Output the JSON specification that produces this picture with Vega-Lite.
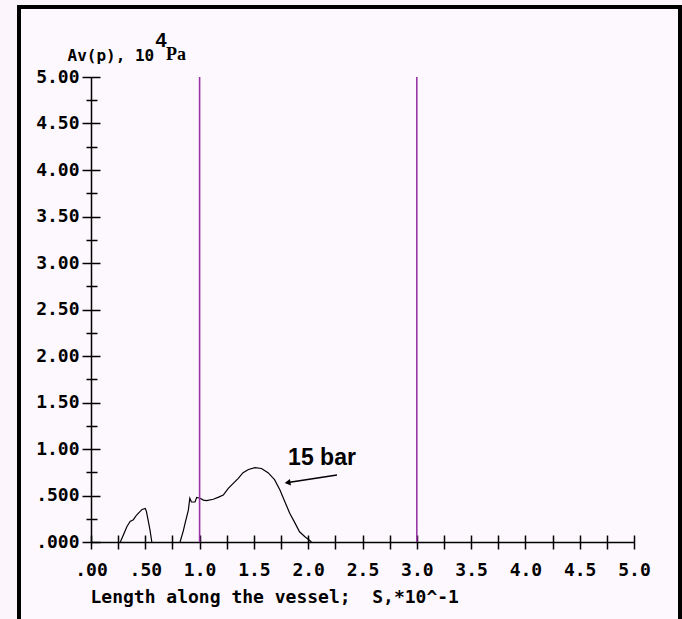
{
  "$schema": "https://vega.github.io/schema/vega-lite/v6.json",
  "width": 661,
  "height": 612,
  "autosize": {"type": "none"},
  "padding": {"left": 19, "top": 7, "right": 2, "bottom": 0},
  "background": "#fcf6fc",
  "config": {
    "view": {"fill": "#fdf8fd", "stroke": "#000000", "strokeWidth": 4, "strokeDash": [1273, 661, 700]},
    "axis": {"grid": false, "domainColor": "#000000", "tickColor": "#000000", "labelColor": "#000000", "titleColor": "#000000"}
  },
  "datasets": {
    "curve": [
      {"s": 0.27, "av": 0.0, "seg": "a"},
      {"s": 0.30, "av": 0.08, "seg": "a"},
      {"s": 0.33, "av": 0.165, "seg": "a"},
      {"s": 0.36, "av": 0.22, "seg": "a"},
      {"s": 0.39, "av": 0.24, "seg": "a"},
      {"s": 0.42, "av": 0.29, "seg": "a"},
      {"s": 0.47, "av": 0.35, "seg": "a"},
      {"s": 0.50, "av": 0.36, "seg": "a"},
      {"s": 0.51, "av": 0.33, "seg": "a"},
      {"s": 0.525, "av": 0.24, "seg": "a"},
      {"s": 0.543, "av": 0.13, "seg": "a"},
      {"s": 0.56, "av": 0.0, "seg": "a"},
      {"s": 0.82, "av": 0.0, "seg": "b"},
      {"s": 0.85, "av": 0.12, "seg": "b"},
      {"s": 0.866, "av": 0.2, "seg": "b"},
      {"s": 0.896, "av": 0.34, "seg": "b"},
      {"s": 0.91, "av": 0.47, "seg": "b"},
      {"s": 0.925, "av": 0.43, "seg": "b"},
      {"s": 0.958, "av": 0.43, "seg": "b"},
      {"s": 0.973, "av": 0.48, "seg": "b"},
      {"s": 1.004, "av": 0.47, "seg": "b"},
      {"s": 1.035, "av": 0.45, "seg": "b"},
      {"s": 1.065, "av": 0.444, "seg": "b"},
      {"s": 1.126, "av": 0.46, "seg": "b"},
      {"s": 1.17, "av": 0.48, "seg": "b"},
      {"s": 1.218, "av": 0.505, "seg": "b"},
      {"s": 1.264, "av": 0.577, "seg": "b"},
      {"s": 1.31, "av": 0.63, "seg": "b"},
      {"s": 1.356, "av": 0.685, "seg": "b"},
      {"s": 1.40, "av": 0.745, "seg": "b"},
      {"s": 1.45, "av": 0.78, "seg": "b"},
      {"s": 1.51, "av": 0.80, "seg": "b"},
      {"s": 1.57, "av": 0.79, "seg": "b"},
      {"s": 1.63, "av": 0.745, "seg": "b"},
      {"s": 1.69, "av": 0.67, "seg": "b"},
      {"s": 1.74, "av": 0.56, "seg": "b"},
      {"s": 1.786, "av": 0.43, "seg": "b"},
      {"s": 1.83, "av": 0.31, "seg": "b"},
      {"s": 1.88, "av": 0.2, "seg": "b"},
      {"s": 1.92, "av": 0.11, "seg": "b"},
      {"s": 1.97, "av": 0.057, "seg": "b"},
      {"s": 2.0, "av": 0.03, "seg": "b"},
      {"s": 2.03, "av": 0.0, "seg": "b"}
    ],
    "markers": [{"s": 1.0}, {"s": 3.0}],
    "note": [{"s": 2.127, "av": 0.828, "text": "15 bar"}],
    "one": [{}]
  },
  "resolve": {"axis": {"x": "independent", "y": "independent"}},
  "layer": [
    {
      "data": {"name": "curve"},
      "mark": {"type": "line", "color": "#000000", "strokeWidth": 1.2},
      "encoding": {
        "x": {"field": "s", "type": "quantitative",
              "scale": {"domain": [0, 5], "range": [72, 615], "nice": false, "zero": false},
              "axis": {"orient": "bottom", "offset": -77, "values": [0, 0.5, 1, 1.5, 2, 2.5, 3, 3.5, 4, 4.5, 5],
                       "ticks": false, "tickSize": 0, "domainWidth": 1.5,
                       "labelExpr": "datum.value == 0 ? '.00' : datum.value == 0.5 ? '.50' : format(datum.value, '.1f')",
                       "labelFont": "DejaVu Sans Mono", "labelFontSize": 18, "labelFontWeight": "bold", "labelPadding": 19, "labelBaseline": "top",
                       "labelFlush": false, "labelOverlap": false,
                       "title": "Length along the vessel;\u00a0 S,*10^-1", "titleFont": "DejaVu Sans Mono", "titleFontSize": 18,
                       "titleFontWeight": "bold", "titleAnchor": "start", "titleAlign": "left", "titleBaseline": "middle",
                       "titleX": 71, "titleY": 55}},
        "y": {"field": "av", "type": "quantitative",
              "scale": {"domain": [0, 5], "range": [535, 70], "nice": false, "zero": false},
              "axis": {"orient": "left", "offset": -72, "values": [0, 0.5, 1, 1.5, 2, 2.5, 3, 3.5, 4, 4.5, 5],
                       "ticks": false, "tickSize": 0, "domainWidth": 1.5,
                       "labelExpr": "datum.value == 0 ? '.000' : datum.value == 0.5 ? '.500' : format(datum.value, '.2f')",
                       "labelFont": "DejaVu Sans Mono", "labelFontSize": 18, "labelFontWeight": "bold", "labelPadding": 12,
                       "labelFlush": false, "labelOverlap": false,
                       "title": "Av(p), 10", "titleFont": "DejaVu Sans Mono", "titleFontSize": 16, "titleFontWeight": "bold",
                       "titleAngle": 0, "titleAlign": "left", "titleBaseline": "alphabetic", "titleX": -24, "titleY": 53}},
        "detail": {"field": "seg", "type": "nominal"}
      }
    },
    {
      "data": {"name": "markers"},
      "mark": {"type": "rule", "color": "#9a35a8", "strokeWidth": 1.6},
      "encoding": {
        "x": {"field": "s", "type": "quantitative",
              "scale": {"domain": [0, 5], "range": [72, 615], "nice": false, "zero": false},
              "axis": {"orient": "bottom", "offset": -84, "domain": false, "labels": false, "title": null, "tickSize": 14, "tickWidth": 1.5,
                       "values": [0, 0.25, 0.5, 0.75, 1, 1.25, 1.5, 1.75, 2, 2.25, 2.5, 2.75, 3, 3.25, 3.5, 3.75, 4, 4.25, 4.5, 4.75, 5]}},
        "y": {"datum": 0, "type": "quantitative",
              "scale": {"domain": [0, 5], "range": [535, 70], "nice": false, "zero": false},
              "axis": {"orient": "left", "offset": -81, "domain": false, "labels": false, "title": null, "tickSize": 18, "tickWidth": 1.5,
                       "values": [0, 0.5, 1, 1.5, 2, 2.5, 3, 3.5, 4, 4.5, 5]}},
        "y2": {"datum": 5}
      }
    },
    {
      "data": {"name": "note"},
      "mark": {"type": "text", "font": "Liberation Sans", "fontSize": 23, "fontWeight": "bold", "align": "center", "baseline": "alphabetic", "color": "#000000"},
      "encoding": {
        "x": {"field": "s", "type": "quantitative",
              "scale": {"domain": [0, 5], "range": [72, 615], "nice": false, "zero": false}, "axis": null},
        "y": {"field": "av", "type": "quantitative",
              "scale": {"domain": [0, 5], "range": [535, 70], "nice": false, "zero": false},
              "axis": {"orient": "left", "offset": -78, "domain": false, "labels": false, "title": null, "tickSize": 11, "tickWidth": 1.5,
                       "values": [0.25, 0.75, 1.25, 1.75, 2.25, 2.75, 3.25, 3.75, 4.25, 4.75]}},
        "text": {"field": "text"}
      }
    },
    {
      "data": {"name": "one"},
      "mark": {"type": "rule", "color": "#000000", "strokeWidth": 1.5},
      "encoding": {
        "x": {"datum": 2.265, "type": "quantitative", "scale": {"domain": [0, 5], "range": [72, 615], "nice": false, "zero": false}, "axis": null},
        "y": {"datum": 0.72, "type": "quantitative", "scale": {"domain": [0, 5], "range": [535, 70], "nice": false, "zero": false}, "axis": null},
        "x2": {"datum": 1.83},
        "y2": {"datum": 0.642}
      }
    },
    {
      "data": {"name": "one"},
      "mark": {"type": "point", "shape": "triangle-left", "filled": true, "color": "#000000", "size": 45, "angle": 351, "opacity": 1},
      "encoding": {
        "x": {"datum": 1.81, "type": "quantitative", "scale": {"domain": [0, 5], "range": [72, 615], "nice": false, "zero": false}, "axis": null},
        "y": {"datum": 0.638, "type": "quantitative", "scale": {"domain": [0, 5], "range": [535, 70], "nice": false, "zero": false}, "axis": null}
      }
    },
    {
      "data": {"name": "one"},
      "mark": {"type": "text", "text": "4", "font": "Liberation Sans", "fontSize": 20, "fontWeight": "bold", "align": "center", "baseline": "alphabetic", "color": "#000000"},
      "encoding": {
        "x": {"datum": 0.645, "type": "quantitative", "scale": {"domain": [0, 5], "range": [72, 615], "nice": false, "zero": false}, "axis": null},
        "y": {"datum": 5.32, "type": "quantitative", "scale": {"domain": [0, 5], "range": [535, 70], "nice": false, "zero": false}, "axis": null}
      }
    },
    {
      "data": {"name": "one"},
      "mark": {"type": "text", "text": "Pa", "font": "Liberation Serif", "fontSize": 18, "fontWeight": "bold", "align": "left", "baseline": "alphabetic", "color": "#000000"},
      "encoding": {
        "x": {"datum": 0.69, "type": "quantitative", "scale": {"domain": [0, 5], "range": [72, 615], "nice": false, "zero": false}, "axis": null},
        "y": {"datum": 5.18, "type": "quantitative", "scale": {"domain": [0, 5], "range": [535, 70], "nice": false, "zero": false}, "axis": null}
      }
    }
  ]
}
